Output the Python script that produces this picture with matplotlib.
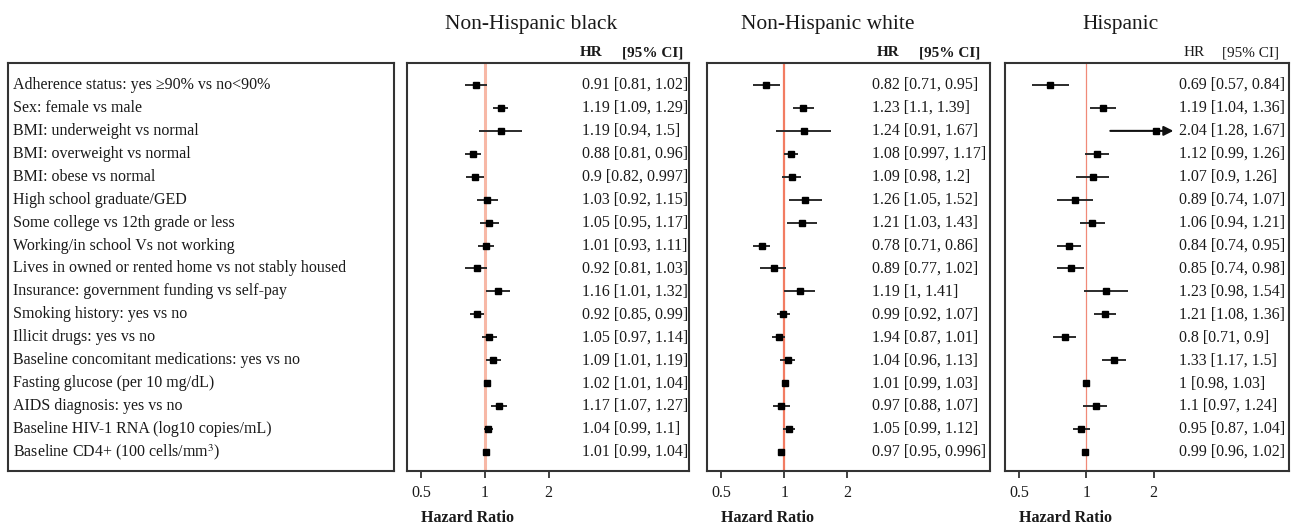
import matplotlib
matplotlib.use("Agg")
import matplotlib.pyplot as plt
import matplotlib.transforms as mtransforms

plt.rcParams['font.family'] = ['Liberation Serif', 'DejaVu Serif']
plt.rcParams['mathtext.fontset'] = 'stix'

# ─── data ───

row_labels = [
    "Adherence status: yes \u226590% vs no<90%",
    "Sex: female vs male",
    "BMI: underweight vs normal",
    "BMI: overweight vs normal",
    "BMI: obese vs normal",
    "High school graduate/GED",
    "Some college vs 12th grade or less",
    "Working/in school Vs not working",
    "Lives in owned or rented home vs not stably housed",
    "Insurance: government funding vs self-pay",
    "Smoking history: yes vs no",
    "Illicit drugs: yes vs no",
    "Baseline concomitant medications: yes vs no",
    "Fasting glucose (per 10 mg/dL)",
    "AIDS diagnosis: yes vs no",
    "Baseline HIV-1 RNA (log10 copies/mL)",
    "Baseline CD4+ (100 cells/mm$^3$)",
]

groups = ["Non-Hispanic black", "Non-Hispanic white", "Hispanic"]

black_hr = [0.91, 1.19, 1.19, 0.88, 0.90, 1.03, 1.05, 1.01, 0.92, 1.16, 0.92, 1.05, 1.09, 1.02, 1.17, 1.04, 1.01]
black_lo = [0.81, 1.09, 0.94, 0.81, 0.82, 0.92, 0.95, 0.93, 0.81, 1.01, 0.85, 0.97, 1.01, 1.01, 1.07, 0.99, 0.99]
black_hi = [1.02, 1.29, 1.50, 0.96, 0.997, 1.15, 1.17, 1.11, 1.03, 1.32, 0.99, 1.14, 1.19, 1.04, 1.27, 1.10, 1.04]
black_txt = ["0.91 [0.81, 1.02]", "1.19 [1.09, 1.29]", "1.19 [0.94, 1.5]", "0.88 [0.81, 0.96]",
             "0.9 [0.82, 0.997]", "1.03 [0.92, 1.15]", "1.05 [0.95, 1.17]", "1.01 [0.93, 1.11]",
             "0.92 [0.81, 1.03]", "1.16 [1.01, 1.32]", "0.92 [0.85, 0.99]", "1.05 [0.97, 1.14]",
             "1.09 [1.01, 1.19]", "1.02 [1.01, 1.04]", "1.17 [1.07, 1.27]", "1.04 [0.99, 1.1]",
             "1.01 [0.99, 1.04]"]

white_hr = [0.82, 1.23, 1.24, 1.08, 1.09, 1.26, 1.21, 0.78, 0.89, 1.19, 0.99, 0.94, 1.04, 1.01, 0.97, 1.05, 0.97]
white_lo = [0.71, 1.10, 0.91, 0.997, 0.98, 1.05, 1.03, 0.71, 0.77, 1.00, 0.92, 0.87, 0.96, 0.99, 0.88, 0.99, 0.95]
white_hi = [0.95, 1.39, 1.67, 1.17, 1.20, 1.52, 1.43, 0.86, 1.02, 1.41, 1.07, 1.01, 1.13, 1.03, 1.07, 1.12, 0.996]
white_txt = ["0.82 [0.71, 0.95]", "1.23 [1.1, 1.39]", "1.24 [0.91, 1.67]", "1.08 [0.997, 1.17]",
             "1.09 [0.98, 1.2]", "1.26 [1.05, 1.52]", "1.21 [1.03, 1.43]", "0.78 [0.71, 0.86]",
             "0.89 [0.77, 1.02]", "1.19 [1, 1.41]", "0.99 [0.92, 1.07]", "1.94 [0.87, 1.01]",
             "1.04 [0.96, 1.13]", "1.01 [0.99, 1.03]", "0.97 [0.88, 1.07]", "1.05 [0.99, 1.12]",
             "0.97 [0.95, 0.996]"]

hisp_hr = [0.69, 1.19, 2.04, 1.12, 1.07, 0.89, 1.06, 0.84, 0.85, 1.23, 1.21, 0.80, 1.33, 1.00, 1.10, 0.95, 0.99]
hisp_lo = [0.57, 1.04, 1.28, 0.99, 0.90, 0.74, 0.94, 0.74, 0.74, 0.98, 1.08, 0.71, 1.17, 0.98, 0.97, 0.87, 0.96]
hisp_hi = [0.84, 1.36, 2.45, 1.26, 1.26, 1.07, 1.21, 0.95, 0.98, 1.54, 1.36, 0.90, 1.50, 1.03, 1.24, 1.04, 1.02]
hisp_txt = ["0.69 [0.57, 0.84]", "1.19 [1.04, 1.36]", "2.04 [1.28, 1.67]", "1.12 [0.99, 1.26]",
            "1.07 [0.9, 1.26]", "0.89 [0.74, 1.07]", "1.06 [0.94, 1.21]", "0.84 [0.74, 0.95]",
            "0.85 [0.74, 0.98]", "1.23 [0.98, 1.54]", "1.21 [1.08, 1.36]", "0.8 [0.71, 0.9]",
            "1.33 [1.17, 1.5]", "1 [0.98, 1.03]", "1.1 [0.97, 1.24]", "0.95 [0.87, 1.04]",
            "0.99 [0.96, 1.02]"]
hisp_clipped = [2]  # rows drawn with an arrow (CI runs off the scale)

x_ticks = [0.5, 1, 2]

# ─── layout ───

W, H = 1293, 527
fig = plt.figure(figsize=(W / 100, H / 100), dpi=100)

def px_axes(x0, x1, y0=63, y1=471):
    return fig.add_axes([x0 / W, 1 - y1 / H, (x1 - x0) / W, (y1 - y0) / H])

n = len(row_labels)
rows = list(range(1, n + 1))
ylim = (n + 0.83, 0.04)
spine_col = '#333333'
txt_col = '#1a1a1a'
fs = 11.5

# label box
axl = px_axes(8, 394)
axl.set_xlim(0, 1)
axl.set_ylim(*ylim)
axl.set_xticks([])
axl.set_yticks([])
for s in axl.spines.values():
    s.set_linewidth(1.5)
    s.set_color(spine_col)
for y, lab in zip(rows, row_labels):
    axl.text(0.012, y, lab, va='center', ha='left', fontsize=fs, color=txt_col)

panels = [
    dict(x=(407, 689), xlim=(0.430, 9.2), hr=black_hr, lo=black_lo, hi=black_hi, txt=black_txt,
         tx=0.621, hx=0.614, cx=0.762, bold=True, ref=('#f7b8a6', 2.2), title_x=531, clip=[]),
    dict(x=(707, 990), xlim=(0.428, 9.6), hr=white_hr, lo=white_lo, hi=white_hi, txt=white_txt,
         tx=0.583, hx=0.601, cx=0.750, bold=True, ref=('#f27c62', 1.6), title_x=828, clip=[]),
    dict(x=(1005, 1289), xlim=(0.433, 8.05), hr=hisp_hr, lo=hisp_lo, hi=hisp_hi, txt=hisp_txt,
         tx=0.613, hx=0.630, cx=0.764, bold=False, ref=('#f08a78', 0.9), title_x=1121, clip=hisp_clipped),
]

for g, p in zip(groups, panels):
    ax = px_axes(*p['x'])
    ax.set_xscale('log')
    ax.set_xlim(*p['xlim'])
    ax.set_ylim(*ylim)
    ax.axvline(1, color=p['ref'][0], lw=p['ref'][1], zorder=1)

    for i, y in enumerate(rows):
        if i in p['clip']:
            ax.annotate('', xy=(p['hi'][i], y), xytext=(p['lo'][i], y),
                        arrowprops=dict(arrowstyle='-|>', color='#111111', lw=1.5,
                                        mutation_scale=14, shrinkA=0, shrinkB=0), zorder=2)
        else:
            ax.plot([p['lo'][i], p['hi'][i]], [y, y], color='#2b2b2b', lw=1.4,
                    solid_capstyle='butt', zorder=2)
    ax.plot(p['hr'], rows, 's', color='black', ms=4.0, zorder=3)

    for y, t in zip(rows, p['txt']):
        ax.text(p['tx'], y, t, transform=mtransforms.blended_transform_factory(ax.transAxes, ax.transData),
                va='center', ha='left', fontsize=fs, color=txt_col)

    w = 'bold' if p['bold'] else 'normal'
    ax.text(p['hx'], 1.025, "HR", transform=ax.transAxes, ha='left', va='center',
            fontsize=fs - 0.5, fontweight=w, color=txt_col)
    ax.text(p['cx'], 1.025, "[95% CI]", transform=ax.transAxes, ha='left', va='center',
            fontsize=fs - 0.5, fontweight=w, color=txt_col)

    ax.set_yticks([])
    ax.set_xticks(x_ticks)
    ax.set_xticklabels([str(v) for v in x_ticks])
    ax.xaxis.set_minor_locator(matplotlib.ticker.NullLocator())
    ax.tick_params(axis='x', direction='out', length=5, width=1.3, colors=spine_col,
                   labelsize=fs, labelcolor=txt_col, pad=5)
    for s in ax.spines.values():
        s.set_linewidth(1.5)
        s.set_color(spine_col)

    ax.text(0.5, -0.115, "Hazard Ratio",
            transform=mtransforms.blended_transform_factory(ax.transData, ax.transAxes),
            ha='left', va='center', fontsize=fs, fontweight='bold', color=txt_col)

    fig.text(p['title_x'] / W, 1 - 24 / H, g, ha='center', va='center', fontsize=15.5, color=txt_col)

fig.savefig("out.png", dpi=100)
